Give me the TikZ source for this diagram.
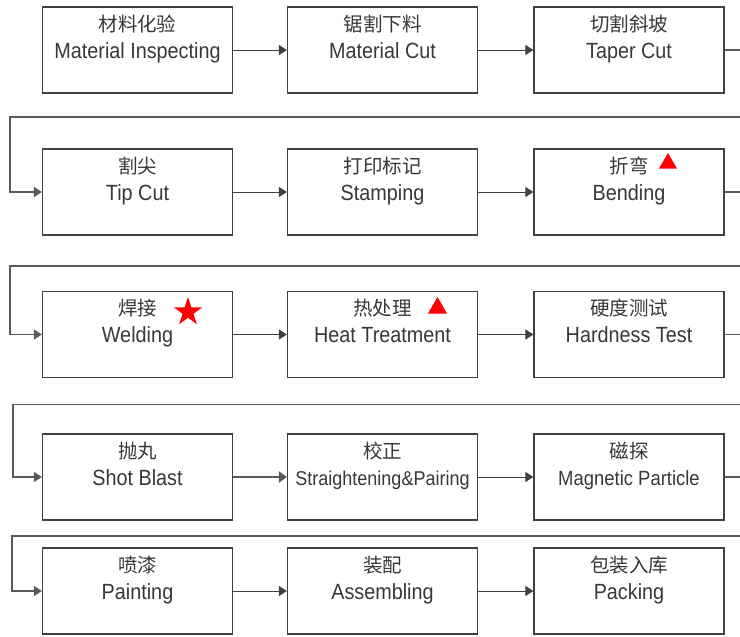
\documentclass[tikz,border=0pt]{standalone}
\usepackage{fontspec}
\setmainfont{Liberation Sans}[FakeStretch=0.9]
\newfontfamily\zh{Noto Sans CJK SC}
\usetikzlibrary{arrows.meta,shapes.geometric,calc}
\definecolor{boxline}{HTML}{404040}
\definecolor{txt}{HTML}{383838}
\definecolor{retline}{HTML}{5A5A5A}
\newcommand{\procbox}[5]{%
  \node[box] (#1) at (#2,#3) {};
  \node[zhtext] (#1zh) at ($(#1.center)+(0,-19)$) {#4};
  \node[entext] (#1en) at ($(#1.center)+(0,8)$) {#5};}
\begin{document}
\begin{tikzpicture}[x=1pt,y=-1pt,
  box/.style={draw=boxline,line width=1.2pt,minimum width=190pt,minimum height=86pt,inner sep=0pt},
  zhtext/.style={anchor=base,inner sep=0pt,font=\zh\fontsize{19.5}{21}\selectfont,text=txt},
  entext/.style={anchor=base,inner sep=0pt,font=\fontsize{22}{24}\selectfont,text=txt},
  conn/.style={draw=boxline,line width=1pt,-{Triangle[length=8pt,width=10pt]}},
  thickconn/.style={draw=gray!70!black,line width=2.6pt,-{Triangle[length=8pt,width=11pt]}},
  retconn/.style={draw=retline,line width=1.3pt,-{Triangle[length=8pt,width=10pt]}},
  redtri/.style={regular polygon,regular polygon sides=3,fill=red,inner sep=0pt},
  redstar/.style={star,star points=5,star point ratio=2.618,fill=red,inner sep=0pt,minimum size=30pt}]
\useasboundingbox (0,0) rectangle (740,637);
\clip (0,0) rectangle (740,637);
\fill[white] (0,0) rectangle (740,637);

\procbox{b1}{137.5}{50}{材料化验}{Material Inspecting}
\procbox{b2}{382.5}{50}{锯割下料}{Material Cut}
\procbox{b3}{629}{50}{切割斜坡}{Taper Cut}
\procbox{b4}{137.5}{192}{割尖}{Tip Cut}
\procbox{b5}{382.5}{192}{打印标记}{Stamping}
\procbox{b6}{629}{192}{折弯}{Bending}
\procbox{b7}{137.5}{334.5}{焊接}{Welding}
\procbox{b8}{382.5}{334.5}{热处理}{Heat Treatment}
\procbox{b9}{629}{334.5}{硬度测试}{Hardness Test}
\procbox{b10}{137.5}{477}{抛丸}{Shot Blast}
\node[box] (b11) at (382.5,477) {};
\node[zhtext] (b11zh) at ($(b11.center)+(0,-19)$) {校正};
\node[entext,font=\fontsize{20}{22}\selectfont] (b11en) at ($(b11.center)+(0,8)$) {Straightening\&Pairing};
\node[box] (b12) at (629,477) {};
\node[zhtext] (b12zh) at ($(b12.center)+(0,-19)$) {磁探};
\node[entext,font=\fontsize{20.5}{22}\selectfont] (b12en) at ($(b12.center)+(0,8)$) {Magnetic Particle};
\procbox{b13}{137.5}{591}{喷漆}{Painting}
\procbox{b14}{382.5}{591}{装配}{Assembling}
\procbox{b15}{629}{591}{包装入库}{Packing}

% markers
\node[redtri,minimum size=20.8pt] (m1) at (668,163.4) {};
\node[redstar] (m2) at (188,312) {};
\node[redtri,minimum size=22pt] (m3) at (437.5,308) {};

% horizontal connectors
\draw[conn] (b1) -- (b2);
\draw[conn] (b2) -- (b3);
\draw[conn] (b4) -- (b5);
\draw[conn] (b5) -- (b6);
\draw[conn] (b7) -- (b8);
\draw[conn] (b8) -- (b9);
\draw[thickconn] (b10) -- (b11);
\draw[conn] (b11) -- (b12);
\draw[conn] (b13) -- (b14);
\draw[conn] (b14) -- (b15);

% return connectors
\coordinate (e1) at (750,50);   \coordinate (e1b) at (750,117);
\coordinate (w1) at (10,117);   \coordinate (w1b) at (10,192);
\coordinate (e2) at (750,192);  \coordinate (e2b) at (750,266);
\coordinate (w2) at (10,266);   \coordinate (w2b) at (10,334.5);
\coordinate (e3) at (750,334.5);\coordinate (e3b) at (750,404.5);
\coordinate (w3) at (13,404.5); \coordinate (w3b) at (13,477);
\coordinate (e4) at (750,477);  \coordinate (e4b) at (750,536);
\coordinate (w4) at (12,536);   \coordinate (w4b) at (12,591);
\draw[retconn] (b3.east) -- (e1) -- (e1b) -- (w1) -- (w1b) -- (b4.west);
\draw[retconn] (b6.east) -- (e2) -- (e2b) -- (w2) -- (w2b) -- (b7.west);
\draw[retconn] (b9.east) -- (e3) -- (e3b) -- (w3) -- (w3b) -- (b10.west);
\draw[retconn] (b12.east) -- (e4) -- (e4b) -- (w4) -- (w4b) -- (b13.west);
\end{tikzpicture}
\end{document}
